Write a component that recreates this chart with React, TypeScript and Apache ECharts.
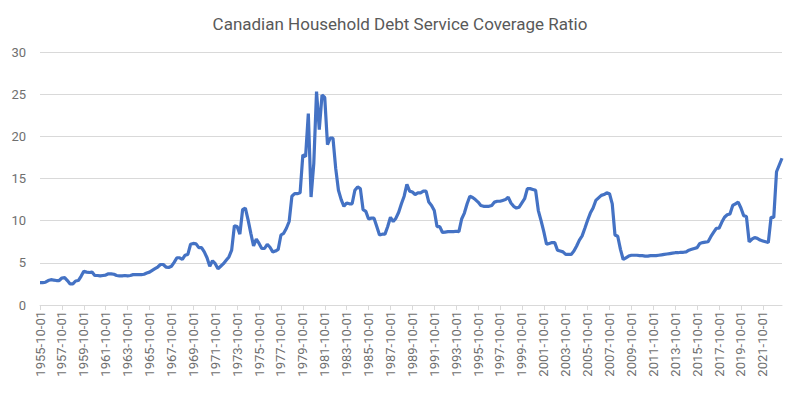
import React, { useEffect, useRef } from "react";
import * as echarts from "echarts";

const TITLE = "Canadian Household Debt Service Coverage Ratio";
const START_YEAR = 1955;
const START_MONTH = 10;

// Quarterly values, starting 1955-10-01
const values: number[] = [
  2.65, 2.65, 2.7, 2.9,
  3.0, 2.95, 2.9, 2.9,
  3.2, 3.25, 2.9, 2.5,
  2.5, 2.85, 2.9, 3.4,
  4.0, 3.9, 3.85, 3.9,
  3.5, 3.5, 3.45, 3.5,
  3.55, 3.7, 3.7, 3.65,
  3.5, 3.45, 3.45, 3.5,
  3.45, 3.5, 3.6, 3.6,
  3.6, 3.6, 3.65, 3.8,
  3.9, 4.1, 4.3, 4.5,
  4.8, 4.8, 4.5, 4.45,
  4.6, 5.05, 5.6, 5.6,
  5.4, 5.9, 6.0, 7.2,
  7.3, 7.25, 6.8, 6.8,
  6.3, 5.6, 4.6, 5.25,
  4.9, 4.3, 4.6, 4.9,
  5.3, 5.7, 6.5, 9.4,
  9.3, 8.4, 11.3, 11.5,
  10.1, 8.5, 7.0, 7.8,
  7.3, 6.7, 6.7, 7.2,
  6.85, 6.3, 6.4, 6.6,
  8.3, 8.5, 9.1, 9.9,
  12.9, 13.2, 13.2, 13.3,
  17.8, 17.6, 22.7, 12.8,
  16.8, 25.3, 20.8, 24.9,
  24.6, 19.0, 19.8, 19.8,
  16.2, 13.6, 12.5, 11.7,
  12.1, 12.0, 12.0, 13.6,
  14.0, 13.8, 11.3, 11.1,
  10.2, 10.3, 10.3, 9.3,
  8.3, 8.4, 8.4, 9.3,
  10.4, 9.9, 10.3, 11.0,
  12.0, 12.9, 14.3, 13.5,
  13.4, 13.1, 13.3, 13.3,
  13.5, 13.5, 12.2, 11.8,
  11.2, 9.3, 9.3, 8.6,
  8.65, 8.7, 8.7, 8.7,
  8.75, 8.7, 10.2, 10.9,
  12.0, 12.9, 12.75, 12.5,
  12.2, 11.8, 11.7, 11.7,
  11.7, 11.8, 12.2, 12.3,
  12.3, 12.4, 12.5, 12.8,
  12.1, 11.7, 11.5, 11.6,
  12.1, 12.6, 13.8, 13.8,
  13.7, 13.6, 11.2, 10.0,
  8.7, 7.2, 7.3, 7.4,
  7.4, 6.5, 6.4, 6.3,
  6.0, 6.0, 6.0, 6.4,
  7.0, 7.7, 8.2, 9.1,
  10.05, 10.9, 11.5, 12.4,
  12.7, 13.0, 13.1, 13.3,
  13.2, 12.0, 8.3, 8.15,
  6.6, 5.4, 5.6, 5.8,
  5.9, 5.9, 5.9, 5.85,
  5.85, 5.8, 5.8, 5.85,
  5.85, 5.85, 5.9, 5.95,
  6.0, 6.05, 6.1, 6.15,
  6.2, 6.2, 6.25, 6.25,
  6.3, 6.5, 6.6, 6.7,
  6.8, 7.3, 7.4, 7.45,
  7.5, 8.1, 8.6, 9.1,
  9.1, 9.8, 10.4, 10.7,
  10.8, 11.8, 12.0, 12.2,
  11.5, 10.6, 10.5, 7.5,
  7.8, 8.0, 7.9, 7.7,
  7.6, 7.5, 7.4, 10.4,
  10.4, 15.8, 16.6, 17.4,
];

const categories: string[] = values.map((_, i) => {
  const m0 = START_MONTH - 1 + i * 3;
  const y = START_YEAR + Math.floor(m0 / 12);
  const m = (m0 % 12) + 1;
  return `${y}-${String(m).padStart(2, "0")}-01`;
});

const Y_MIN = 0;
const Y_MAX = 30;
const Y_STEP = 5;

export default function App() {
  const ref = useRef<HTMLDivElement>(null);
  useEffect(() => {
    if (!ref.current) return;
    const chart = echarts.init(ref.current, undefined, { renderer: "svg" });
    chart.setOption({
      animation: false,
      backgroundColor: "#ffffff",
      title: {
        text: TITLE,
        left: "center",
        top: 10,
        textStyle: {
          color: "#595959",
          fontSize: 17,
          fontWeight: "normal",
          fontFamily: "Roboto",
        },
      },
      grid: { left: 40, right: 18, top: 52, bottom: 90, containLabel: false },
      xAxis: {
        type: "category",
        data: categories,
        boundaryGap: false,
        axisLine: { lineStyle: { color: "#d9d9d9", width: 1 } },
        axisTick: {
          show: true,
          interval: 7,
          length: 5,
          lineStyle: { color: "#d9d9d9" },
        },
        axisLabel: {
          interval: 7,
          rotate: 90,
          color: "#6f6f6f",
          fontSize: 13,
          fontFamily: "Roboto",
          margin: 6,
        },
        splitLine: { show: false },
      },
      yAxis: {
        type: "value",
        min: Y_MIN,
        max: Y_MAX,
        interval: Y_STEP,
        axisLine: { show: false },
        axisTick: { show: false },
        axisLabel: {
          color: "#6f6f6f",
          fontSize: 13,
          fontFamily: "Roboto",
          margin: 14,
        },
        splitLine: { lineStyle: { color: "#d9d9d9", width: 1 } },
      },
      series: [
        {
          type: "line",
          data: values,
          showSymbol: false,
          symbol: "none",
          lineStyle: { color: "#4472C4", width: 3.2 },
          itemStyle: { color: "#4472C4" },
        },
      ],
    });
    return () => chart.dispose();
  }, []);
  return (
    <div
      ref={ref}
      style={{ position: "absolute", left: 0, top: 0, width: 800, height: 395 }}
    />
  );
}
